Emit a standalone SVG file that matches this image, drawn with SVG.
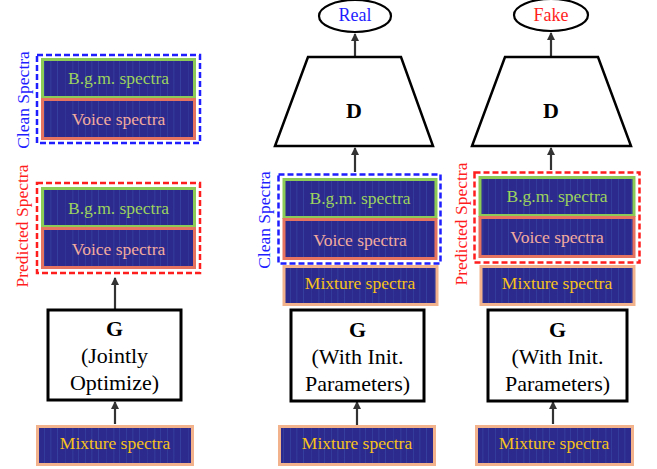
<svg xmlns="http://www.w3.org/2000/svg" width="657" height="469" viewBox="0 0 657 469">
<style>
text{font-family:"Liberation Serif","Times New Roman",serif;text-anchor:middle}
.spec{font-size:17.5px}
.bgm{fill:url(#spg);stroke:#8CCB55;stroke-width:3}
.voice{fill:url(#spg);stroke:#E5735F;stroke-width:3}
.mix{fill:url(#spg);stroke:#F2B38C;stroke-width:3}
.tb{fill:#9CD35E}
.tv{fill:#F3AC9E}
.tm{fill:#F7C21A}
.blue{fill:none;stroke:#1E1EFF;stroke-width:2.5;stroke-dasharray:6 3}
.red{fill:none;stroke:#FF1E1E;stroke-width:2.5;stroke-dasharray:6 3}
.gbox{fill:#fff;stroke:#000;stroke-width:3}
.gt{font-size:22px;fill:#000}
.side{font-size:17.5px}
.conn{stroke:#333;stroke-width:2.2;fill:none;marker-end:url(#ah)}
</style>
<defs>
<marker id="ah" markerWidth="8" markerHeight="8" refX="7" refY="4" orient="auto" markerUnits="userSpaceOnUse">
<path d="M0,0 L8,4 L0,8 Z" fill="#333"/>
</marker>
<pattern id="spg" patternUnits="userSpaceOnUse" width="41" height="60">
<rect width="41" height="60" fill="#2C2A8C"/>
<rect x="3" y="0" width="1" height="60" fill="#3B4DAA" opacity="0.5"/>
<rect x="9" y="0" width="1.5" height="60" fill="#3550A8" opacity="0.35"/>
<rect x="16" y="0" width="1" height="60" fill="#4058B5" opacity="0.45"/>
<rect x="24" y="0" width="1" height="60" fill="#3A48A5" opacity="0.4"/>
<rect x="31" y="0" width="1.5" height="60" fill="#3F55B0" opacity="0.3"/>
<rect x="37" y="0" width="1" height="60" fill="#3B4DAA" opacity="0.5"/>
</pattern>
</defs>

<g id="connectors">
<line class="conn" x1="115" y1="309" x2="115" y2="278"/>
<line class="conn" x1="115" y1="424" x2="115" y2="402"/>
<line class="conn" x1="355" y1="57" x2="355" y2="34"/>
<line class="conn" x1="355" y1="172" x2="355" y2="148"/>
<line class="conn" x1="357" y1="425" x2="357" y2="402"/>
<line class="conn" x1="551" y1="57" x2="551" y2="33"/>
<line class="conn" x1="551" y1="170" x2="551" y2="148"/>
<line class="conn" x1="553" y1="424" x2="553" y2="402"/>
</g>

<g id="left-clean">
<rect class="bgm" x="42.5" y="59.5" width="152" height="38"/>
<text class="spec tb" x="118.5" y="84">B.g.m. spectra</text>
<rect class="voice" x="42.5" y="99.5" width="152" height="39"/>
<text class="spec tv" x="118.5" y="125">Voice spectra</text>
<rect class="blue" x="37" y="55" width="163" height="88"/>
<text class="side" fill="#1E1EFF" transform="translate(29,100) rotate(-90)">Clean Spectra</text>
</g>

<g id="left-pred">
<rect class="bgm" x="42.5" y="188.5" width="152" height="38"/>
<text class="spec tb" x="118.5" y="214">B.g.m. spectra</text>
<rect class="voice" x="42.5" y="228.5" width="152" height="39"/>
<text class="spec tv" x="118.5" y="255">Voice spectra</text>
<rect class="red" x="37" y="183" width="163" height="90"/>
<text class="side" fill="#FF1E1E" transform="translate(28,226) rotate(-90)">Predicted Spectra</text>
</g>

<g id="left-G">
<rect class="gbox" x="48" y="310" width="133" height="90"/>
<text class="gt" x="114.5" y="336" font-weight="bold">G</text>
<text class="gt" x="114.5" y="363">(Jointly</text>
<text class="gt" x="114.5" y="390">Optimize)</text>
</g>

<g id="left-mix">
<rect class="mix" x="37.5" y="426.5" width="155" height="38"/>
<text class="spec tm" x="115" y="449">Mixture spectra</text>
</g>

<g id="real">
<ellipse cx="355" cy="16" rx="36" ry="16" fill="#fff" stroke="#000" stroke-width="2.2"/>
<text x="355" y="21" font-size="18" fill="#1E1EFF">Real</text>
</g>

<g id="D-mid">
<polygon points="308,57 401,57 433,146 275,146" fill="#fff" stroke="#000" stroke-width="2.5"/>
<text x="354" y="118" font-size="22" font-weight="bold">D</text>
</g>

<g id="mid-clean">
<rect class="bgm" x="284" y="179.5" width="152" height="38"/>
<text class="spec tb" x="360" y="204">B.g.m. spectra</text>
<rect class="voice" x="284" y="219.5" width="152" height="39"/>
<text class="spec tv" x="360" y="246">Voice spectra</text>
<rect class="blue" x="278.5" y="174.5" width="162" height="89"/>
<text class="side" fill="#1E1EFF" transform="translate(270,220) rotate(-90)">Clean Spectra</text>
</g>

<g id="mid-mix">
<rect class="mix" x="284" y="266.5" width="153" height="38"/>
<text class="spec tm" x="360" y="289">Mixture spectra</text>
</g>

<g id="mid-G">
<rect class="gbox" x="291" y="310" width="133" height="91"/>
<text class="gt" x="357.5" y="337" font-weight="bold">G</text>
<text class="gt" x="357.5" y="364">(With Init.</text>
<text class="gt" x="357.5" y="391">Parameters)</text>
</g>

<g id="mid-mix2">
<rect class="mix" x="279.5" y="426.5" width="155" height="38"/>
<text class="spec tm" x="357" y="449">Mixture spectra</text>
</g>

<g id="fake">
<ellipse cx="551" cy="15" rx="37" ry="16" fill="#fff" stroke="#000" stroke-width="2.2"/>
<text x="551" y="21" font-size="18" fill="#FF1E1E">Fake</text>
</g>

<g id="D-right">
<polygon points="505,57 598,57 631,146 472,146" fill="#fff" stroke="#000" stroke-width="2.5"/>
<text x="551" y="118" font-size="22" font-weight="bold">D</text>
</g>

<g id="right-pred">
<rect class="bgm" x="480" y="177.5" width="154" height="38"/>
<text class="spec tb" x="557" y="202">B.g.m. spectra</text>
<rect class="voice" x="480" y="217.5" width="154" height="39"/>
<text class="spec tv" x="557" y="243">Voice spectra</text>
<rect class="red" x="474.5" y="172.5" width="165" height="90"/>
<text class="side" fill="#FF1E1E" transform="translate(467,224) rotate(-90)">Predicted Spectra</text>
</g>

<g id="right-mix">
<rect class="mix" x="481" y="266.5" width="153" height="38"/>
<text class="spec tm" x="557" y="289">Mixture spectra</text>
</g>

<g id="right-G">
<rect class="gbox" x="488" y="310" width="139" height="91"/>
<text class="gt" x="557.5" y="337" font-weight="bold">G</text>
<text class="gt" x="557.5" y="364">(With Init.</text>
<text class="gt" x="557.5" y="391">Parameters)</text>
</g>

<g id="right-mix2">
<rect class="mix" x="476.5" y="426.5" width="156" height="38"/>
<text class="spec tm" x="554" y="449">Mixture spectra</text>
</g>
</svg>
